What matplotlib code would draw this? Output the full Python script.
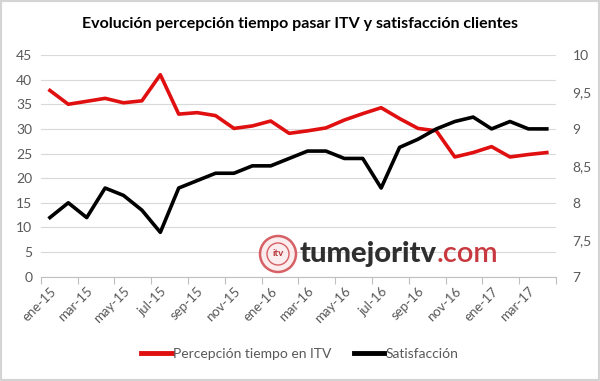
import numpy as np
import matplotlib
matplotlib.use("Agg")
import matplotlib.pyplot as plt
from matplotlib.patches import Rectangle, Ellipse

# monthly series, ene-15 .. abr-17
MONTHS = ["ene-15", "feb-15", "mar-15", "abr-15", "may-15", "jun-15", "jul-15",
          "ago-15", "sep-15", "oct-15", "nov-15", "dic-15", "ene-16", "feb-16",
          "mar-16", "abr-16", "may-16", "jun-16", "jul-16", "ago-16", "sep-16",
          "oct-16", "nov-16", "dic-16", "ene-17", "feb-17", "mar-17", "abr-17"]
PERCEPCION = [37.8, 35.0, 35.6, 36.2, 35.3, 35.7, 41.0, 33.0, 33.3, 32.7,
              30.1, 30.6, 31.6, 29.1, 29.6, 30.2, 31.8, 33.1, 34.3, 32.1,
              30.1, 29.6, 24.3, 25.2, 26.4, 24.3, 24.8, 25.2]
SATISFACCION = [7.8, 8.0, 7.8, 8.2, 8.1, 7.9, 7.6, 8.2, 8.3, 8.4,
                8.4, 8.5, 8.5, 8.6, 8.7, 8.7, 8.6, 8.6, 8.2, 8.75,
                8.86, 9.0, 9.1, 9.16, 9.0, 9.1, 9.0, 9.0]
LEFT_TICKS = [0, 5, 10, 15, 20, 25, 30, 35, 40, 45]
RIGHT_TICKS = [7, 7.5, 8, 8.5, 9, 9.5, 10]

TITLE = "Evolución percepción tiempo pasar ITV y satisfacción clientes"
GREY = "#595959"
RED = "#e01010"

plt.rcParams["font.family"] = ["Lato", "DejaVu Sans"]

fig = plt.figure(figsize=(6.0, 3.81), dpi=100)
W, H = 600, 381
ax = fig.add_axes([40.7 / W, 1 - 276.7 / H, (556 - 40.7) / W, (276.7 - 55) / H])
ax2 = ax.twinx()

x = np.arange(len(MONTHS))
l1, = ax.plot(x, PERCEPCION, color=RED, lw=2.6, solid_joinstyle="round", zorder=3,
              label="Percepción tiempo en ITV")
l2, = ax2.plot(x, SATISFACCION, color="black", lw=2.6, solid_joinstyle="round", zorder=3,
               label="Satisfacción")

ax.set_xlim(-0.5, len(MONTHS) - 0.5)
ax.set_ylim(0, 45)
ax2.set_ylim(7, 10)
ax.set_yticks(LEFT_TICKS)
ax.set_yticklabels([str(v) for v in LEFT_TICKS])
ax2.set_yticks(RIGHT_TICKS)
ax2.set_yticklabels([("%g" % v).replace(".", ",") for v in RIGHT_TICKS])

ax.set_xticks(x[::2])
ax.set_xticklabels(MONTHS[::2], rotation=45, ha="right", va="top", rotation_mode="anchor")
ax.set_xticks(np.arange(-0.5, len(MONTHS), 2), minor=True)
ax.tick_params(axis="x", which="major", length=0, pad=6, labelsize=9.5, labelcolor=GREY)
ax.tick_params(axis="x", which="minor", length=5, color="#bfbfbf", width=0.8)
ax.tick_params(axis="y", length=0, labelsize=10, labelcolor=GREY, pad=6)
ax2.tick_params(axis="y", length=0, labelsize=10, labelcolor=GREY, pad=12)

ax.grid(axis="y", color="#d9d9d9", lw=0.8)
ax.set_axisbelow(True)
for a in (ax, ax2):
    for s in ("top", "left", "right"):
        a.spines[s].set_visible(False)
ax.spines["bottom"].set_color("#bfbfbf")
ax2.spines["bottom"].set_visible(False)

fig.text(0.5, 1 - 24 / H, TITLE, ha="center", va="center", fontsize=11.5,
         fontweight="bold", color="black")

leg = fig.legend(handles=[l1, l2], loc="center", bbox_to_anchor=(0.5, 1 - 354 / H),
                 ncol=2, frameon=False, fontsize=10, handlelength=2.2, handletextpad=0.1,
                 columnspacing=1.6, labelcolor=GREY)
for h in leg.get_lines():
    h.set_linewidth(3.5)

# watermark
wm_y = 1 - 254 / H
fig.patches.append(Ellipse((278 / W, wm_y), 36 / W, 36 / H, transform=fig.transFigure,
                           facecolor="#fbe9ea", edgecolor="#d0464c", lw=1.8, alpha=0.85))
fig.patches.append(Ellipse((278 / W, wm_y), 22 / W, 22 / H, transform=fig.transFigure,
                           facecolor="none", edgecolor="#d0464c", lw=1.0, alpha=0.85))
fig.text(278 / W, wm_y, "itv", ha="center", va="center", fontsize=7,
         fontweight="bold", color="#b8323a")
t1 = fig.text(300 / W, wm_y, "tumejoritv", ha="left", va="center", fontsize=21,
              fontweight="black", color="#2f2f2f")
fig.canvas.draw()
bb = t1.get_window_extent()
fig.text(bb.x1 / W, wm_y, ".com", ha="left", va="center", fontsize=21,
         fontweight="semibold", color="#c8383f")

fig.patches.append(Rectangle((0, 0), 1, 1, transform=fig.transFigure, fill=False,
                             edgecolor="#d4d4d4", lw=3))

fig.savefig("out.png", dpi=100)
